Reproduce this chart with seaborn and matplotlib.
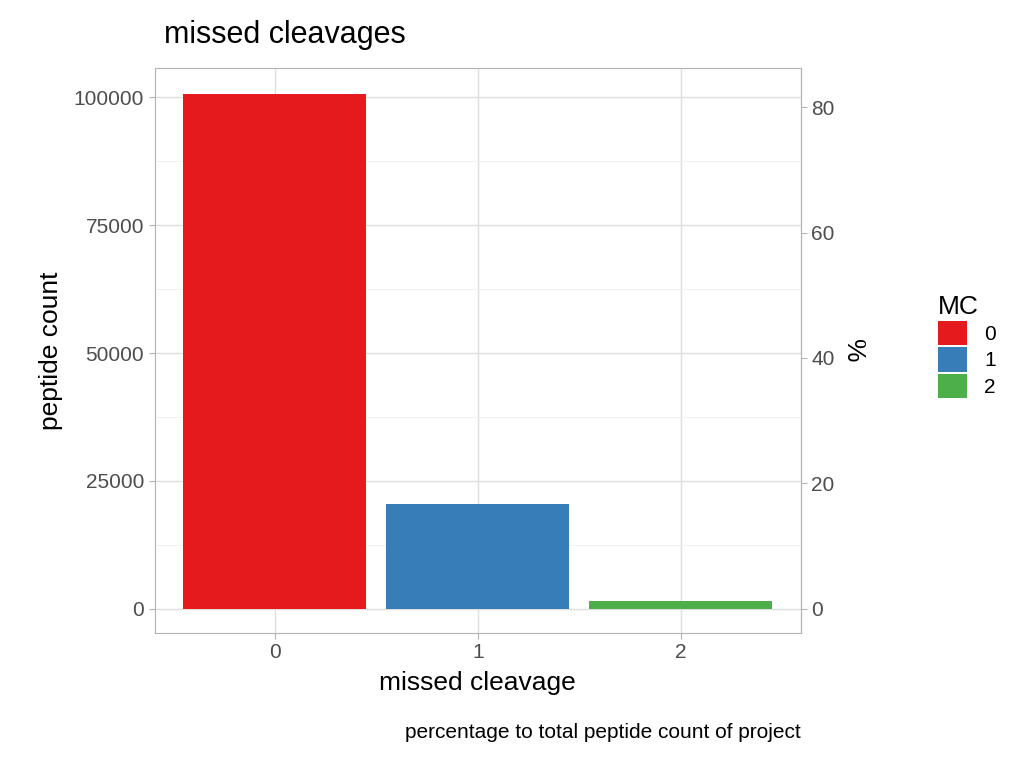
import matplotlib
matplotlib.use('Agg')
import matplotlib.pyplot as plt
import seaborn as sns
import pandas as pd
from matplotlib.patches import Patch

# data
mc_labels = ['0', '1', '2']
peptide_counts = [100700, 20400, 1500]
colors = ['#E41A1C', '#377EB8', '#4DAF4A']
total = sum(peptide_counts)

df = pd.DataFrame({'MC': mc_labels, 'count': peptide_counts})

plt.rcParams['font.family'] = 'Liberation Sans'
fig = plt.figure(figsize=(10.24, 7.68), dpi=100)
ax = fig.add_axes([0.151, 0.176, 0.631, 0.735])

sns.barplot(data=df, x='MC', y='count', hue='MC', palette=colors, width=0.9,
            legend=False, ax=ax, saturation=1, zorder=3)

ax.set_xlim(-0.59, 2.59)
ax.set_ylim(-4690, 105660)
ax.set_yticks([0, 25000, 50000, 75000, 100000])
ax.set_yticks([12500, 37500, 62500, 87500], minor=True)
ax.grid(True, which='major', color='#DEDEDE', lw=1, zorder=0)
ax.grid(True, which='minor', axis='y', color='#EFEFEF', lw=0.6, zorder=0)
for s in ax.spines.values():
    s.set_color('#B3B3B3')
ax.tick_params(colors='#B3B3B3', labelcolor='#4D4D4D', labelsize=15, length=4)
ax.tick_params(which='minor', length=0)
ax.set_xlabel('missed cleavage', fontsize=19, color='black', labelpad=6)
ax.set_ylabel('peptide count', fontsize=19, color='black', labelpad=8)
ax.set_title('missed cleavages', fontsize=22, loc='left', x=0.015, pad=18)

sec = ax.secondary_yaxis('right', functions=(lambda v: v / total * 100, lambda p: p * total / 100))
sec.set_yticks([0, 20, 40, 60, 80])
sec.tick_params(colors='#B3B3B3', labelcolor='#4D4D4D', labelsize=15, length=4)
sec.spines['right'].set_color('#B3B3B3')
sec.set_ylabel('%', fontsize=19, rotation=270, labelpad=22)

handles = [Patch(facecolor=c, label=l) for c, l in zip(colors, mc_labels)]
fig.legend(handles=handles, title='MC', loc='upper left', bbox_to_anchor=(0.898, 0.64),
           frameon=False, fontsize=15, title_fontsize=19, handlelength=1.4,
           handleheight=1.4, labelspacing=0.1, alignment='left')

fig.text(0.782, 0.039, 'percentage to total peptide count of project', ha='right',
         fontsize=15)

fig.savefig('out.png', dpi=100, facecolor='white')
